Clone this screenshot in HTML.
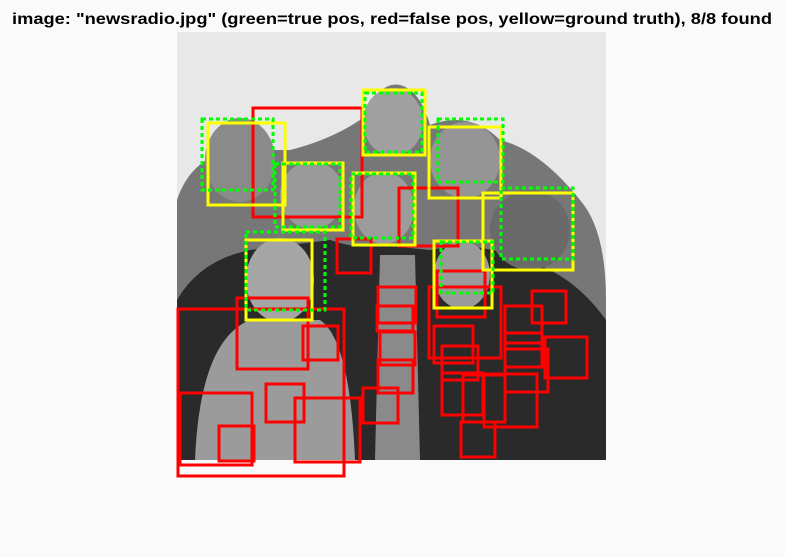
<!DOCTYPE html>
<html><head><style>html,body{margin:0;padding:0;background:#fafafa;width:785px;height:557px;overflow:hidden}</style></head>
<body>
<svg width="785" height="557" xmlns="http://www.w3.org/2000/svg">
<rect width="785" height="557" fill="#fafafa"/>
<text x="12" y="24" font-family="Liberation Sans, sans-serif" font-weight="bold" font-size="16" textLength="760" lengthAdjust="spacingAndGlyphs" fill="#000">image: "newsradio.jpg" (green=true pos, red=false pos, yellow=ground truth), 8/8 found</text>
<!-- photo approximation -->
<rect x="177" y="32" width="429" height="428" fill="#e8e8e8"/>
<g>
<path d="M177 460 L177 200 Q190 160 230 150 L290 150 Q330 140 360 120 Q380 80 400 85 Q420 90 430 125 Q470 110 500 140 Q540 150 580 200 Q606 230 606 300 L606 460 Z" fill="#777"/>
<path d="M177 460 L177 300 Q200 260 250 250 L330 240 Q360 250 380 245 L430 250 Q480 240 520 260 Q570 270 606 320 L606 460 Z" fill="#2a2a2a"/>
<ellipse cx="240" cy="160" rx="35" ry="42" fill="#8a8a8a"/>
<ellipse cx="312" cy="195" rx="32" ry="34" fill="#9a9a9a"/>
<ellipse cx="393" cy="122" rx="30" ry="34" fill="#a0a0a0"/>
<ellipse cx="384" cy="208" rx="30" ry="36" fill="#9c9c9c"/>
<ellipse cx="465" cy="160" rx="35" ry="38" fill="#959595"/>
<ellipse cx="530" cy="230" rx="40" ry="40" fill="#6a6a6a"/>
<ellipse cx="280" cy="280" rx="34" ry="42" fill="#a5a5a5"/>
<ellipse cx="462" cy="275" rx="28" ry="34" fill="#9a9a9a"/>
<path d="M195 460 Q200 340 250 320 L320 320 Q350 340 355 460 Z" fill="#9b9b9b"/>
<path d="M375 460 L380 255 L415 255 L420 460 Z" fill="#8a8a8a"/>
</g>
<g fill="none" stroke-width="3">
<g stroke="#ff0000">
<rect x="253" y="108" width="109" height="109"/>
<rect x="399" y="188" width="59" height="58"/>
<rect x="337" y="239" width="34" height="34"/>
<rect x="178" y="309" width="166" height="167"/>
<rect x="237" y="298" width="71" height="71"/>
<rect x="303" y="326" width="35" height="34"/>
<rect x="180" y="393" width="72" height="72"/>
<rect x="219" y="426" width="35" height="35"/>
<rect x="266" y="384" width="38" height="38"/>
<rect x="295" y="398" width="65" height="64"/>
<rect x="378" y="287" width="38" height="36"/>
<rect x="377" y="306" width="36" height="25"/>
<rect x="380" y="332" width="35" height="33"/>
<rect x="378" y="360" width="35" height="33"/>
<rect x="363" y="388" width="35" height="35"/>
<rect x="429" y="287" width="72" height="71"/>
<rect x="437" y="271" width="48" height="46"/>
<rect x="434" y="326" width="39" height="37"/>
<rect x="442" y="346" width="36" height="34"/>
<rect x="442" y="373" width="41" height="42"/>
<rect x="461" y="422" width="34" height="35"/>
<rect x="463" y="375" width="42" height="47"/>
<rect x="484" y="374" width="53" height="53"/>
<rect x="505" y="306" width="37" height="37"/>
<rect x="505" y="333" width="37" height="34"/>
<rect x="505" y="349" width="43" height="43"/>
<rect x="532" y="291" width="34" height="32"/>
<rect x="545" y="337" width="42" height="41"/>
</g>
<g stroke="#ffff00">
<rect x="208" y="123" width="77" height="82"/>
<rect x="283" y="163" width="60" height="67"/>
<rect x="363" y="90" width="62" height="65"/>
<rect x="353" y="173" width="62" height="72"/>
<rect x="429" y="127" width="72" height="71"/>
<rect x="483" y="193" width="90" height="77"/>
<rect x="246" y="240" width="66" height="80"/>
<rect x="434" y="241" width="58" height="67"/>
</g>
<g stroke="#00ff00" stroke-dasharray="4 3">
<rect x="202" y="119" width="71" height="71"/>
<rect x="275" y="164" width="65" height="63"/>
<rect x="365" y="93" width="57" height="59"/>
<rect x="351" y="174" width="62" height="64"/>
<rect x="438" y="119" width="65" height="63"/>
<rect x="501" y="188" width="72" height="71"/>
<rect x="246" y="232" width="79" height="78"/>
<rect x="441" y="242" width="52" height="51"/>
</g>
</g>
</svg>
</body></html>
